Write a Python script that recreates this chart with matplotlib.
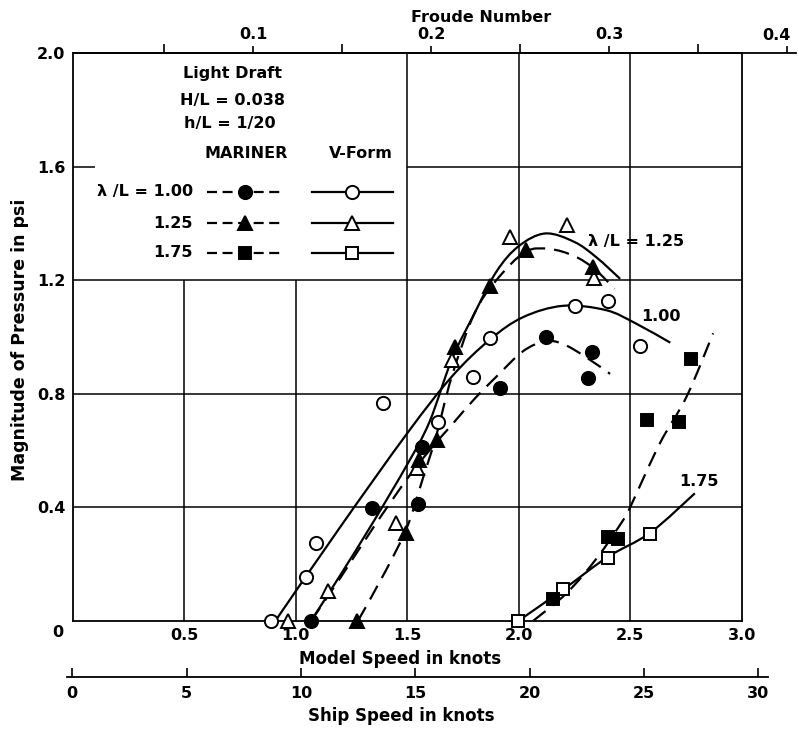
import numpy as np
import matplotlib
matplotlib.use("Agg")
import matplotlib.pyplot as plt
from matplotlib.path import Path
from matplotlib.patches import PathPatch

plt.rcParams['font.family'] = ['DejaVu Sans']
plt.rcParams['font.weight'] = 'bold'
plt.rcParams['font.size'] = 11.5

# Measured points: model speed (knots) vs pressure magnitude (psi)
vform_100_v = [0.89, 1.047, 1.091, 1.393, 1.640, 1.794, 1.871, 2.252, 2.399, 2.544]
vform_100_p = [0.0, 0.155, 0.275, 0.768, 0.701, 0.860, 0.998, 1.110, 1.127, 0.969]
mariner_100_v = [1.069, 1.341, 1.550, 1.565, 1.916, 2.122, 2.312, 2.327]
mariner_100_p = [0.0, 0.398, 0.411, 0.613, 0.821, 1.001, 0.857, 0.946]

vform_125_v = [0.967, 1.144, 1.449, 1.543, 1.700, 1.961, 2.215, 2.339]
vform_125_p = [0.0, 0.106, 0.343, 0.537, 0.919, 1.354, 1.395, 1.207]
mariner_125_v = [1.274, 1.494, 1.553, 1.635, 1.714, 1.871, 2.033, 2.334]
mariner_125_p = [0.0, 0.308, 0.566, 0.637, 0.966, 1.180, 1.307, 1.248]

vform_175_v = [1.995, 2.197, 2.399, 2.589]
vform_175_p = [0.0, 0.110, 0.222, 0.306]
mariner_175_v = [2.155, 2.402, 2.446, 2.574, 2.719, 2.772]
mariner_175_p = [0.075, 0.296, 0.287, 0.707, 0.699, 0.921]

# Faired curves (knots along each hand-drawn line)
fair_v100_v = [0.91, 1.2, 1.5, 1.7, 1.87, 2.02, 2.2, 2.39, 2.52, 2.68]
fair_v100_p = [0.0, 0.33, 0.66, 0.86, 0.99, 1.07, 1.11, 1.095, 1.05, 0.98]
fair_m100_v = [1.07, 1.2, 1.35, 1.5, 1.6, 1.7, 1.8, 1.9, 2.02, 2.12, 2.2, 2.3, 2.41]
fair_m100_p = [0.0, 0.15, 0.33, 0.5, 0.6, 0.69, 0.78, 0.86, 0.95, 0.985, 0.975, 0.93, 0.87]
fair_v125_v = [1.07, 1.2, 1.35, 1.5, 1.6, 1.7, 1.8, 1.9, 2.0, 2.12, 2.25, 2.35, 2.455]
fair_v125_p = [0.0, 0.16, 0.35, 0.55, 0.70, 0.92, 1.08, 1.23, 1.32, 1.365, 1.335, 1.28, 1.205]
fair_m125_v = [1.28, 1.4, 1.5, 1.57, 1.63, 1.7, 1.8, 1.9, 2.03, 2.14, 2.25, 2.34, 2.43]
fair_m125_p = [0.0, 0.17, 0.33, 0.50, 0.65, 0.86, 1.08, 1.2, 1.30, 1.31, 1.285, 1.24, 1.17]
fair_v175_v = [2.0, 2.2, 2.4, 2.59, 2.79]
fair_v175_p = [0.0, 0.11, 0.225, 0.31, 0.449]
fair_m175_v = [2.066, 2.215, 2.35, 2.469, 2.5, 2.633, 2.753, 2.872]
fair_m175_p = [0.0, 0.097, 0.22, 0.355, 0.40, 0.625, 0.79, 1.013]

model_ticks = [0.5, 1.0, 1.5, 2.0, 2.5, 3.0]
pressure_ticks = [0.4, 0.8, 1.2, 1.6, 2.0]
froude_major = [0.1, 0.2, 0.3, 0.4]
froude_minor = [0.05, 0.15, 0.25, 0.35]
ship_ticks = [0, 5, 10, 15, 20, 25, 30]

DASH = (0, (7, 4))
LW = 1.6


def faired(xs, ys):
    # Catmull-Rom knots turned into cubic Bezier segments
    pts = np.column_stack([xs, ys])
    n = len(pts)
    verts = [pts[0]]
    codes = [Path.MOVETO]
    for i in range(n - 1):
        p0 = pts[i - 1] if i > 0 else pts[i]
        p1, p2 = pts[i], pts[i + 1]
        p3 = pts[i + 2] if i + 2 < n else pts[i + 1]
        verts += [p1 + (p2 - p0) / 6, p2 - (p3 - p1) / 6, p2]
        codes += [Path.CURVE4] * 3
    return Path(verts, codes)


fig = plt.figure(figsize=(7.99, 7.29), dpi=100)
W, H = 799, 729
ax = fig.add_axes([72.5 / W, 1 - 620.7 / H, 669.2 / W, 567.4 / H])
ax.set_xlim(0, 3.0)
ax.set_ylim(0, 2.0)

# Grid, kept clear of the key box in the upper left
ax.vlines([0.5, 1.0], 0, 1.2, color='k', lw=1.1, zorder=1)
ax.vlines([1.5, 2.0, 2.5], 0, 2.0, color='k', lw=1.1, zorder=1)
ax.hlines([0.4, 0.8, 1.2], 0, 3.0, color='k', lw=1.1, zorder=1)
ax.hlines(1.6, 1.5, 3.0, color='k', lw=1.1, zorder=1)
ax.hlines(1.6, 0, 0.1, color='k', lw=1.1, zorder=1)

for s in ax.spines.values():
    s.set_linewidth(1.3)

ax.set_xticks(model_ticks)
ax.set_xticklabels([f"{t:.1f}" for t in model_ticks])
ax.set_yticks(pressure_ticks)
ax.set_yticklabels([f"{t:.1f}" for t in pressure_ticks])
ax.tick_params(length=0, pad=5)
ax.text(-0.064, -0.043, "0", ha='center', va='center', clip_on=False)

curve_specs = [
    (fair_v100_v, fair_v100_p, '-'),
    (fair_m100_v, fair_m100_p, DASH),
    (fair_v125_v, fair_v125_p, '-'),
    (fair_m125_v, fair_m125_p, DASH),
    (fair_v175_v, fair_v175_p, '-'),
    (fair_m175_v, fair_m175_p, DASH),
]
for xs, ys, ls in curve_specs:
    ax.add_patch(PathPatch(faired(xs, ys), fill=False, ec='k', lw=LW,
                           ls=ls, capstyle='butt', zorder=2))

marker_specs = [
    (vform_100_v, vform_100_p, 'o', 'white'),
    (mariner_100_v, mariner_100_p, 'o', 'black'),
    (vform_125_v, vform_125_p, '^', 'white'),
    (mariner_125_v, mariner_125_p, '^', 'black'),
    (vform_175_v, vform_175_p, 's', 'white'),
    (mariner_175_v, mariner_175_p, 's', 'black'),
]
for xs, ys, m, fc in marker_specs:
    ms = 9.5 if m != 's' else 8.5
    ax.plot(xs, ys, ls='none', marker=m, ms=ms, mfc=fc, mec='k',
            mew=1.4, zorder=4, clip_on=False)

# Curve labels
ax.text(2.311, 1.336, "λ /L = 1.25", ha='left', va='center')
ax.text(2.551, 1.072, "1.00", ha='left', va='center')
ax.text(2.718, 0.490, "1.75", ha='left', va='center')

# Key
ax.text(0.716, 1.928, "Light Draft", ha='center', va='center')
ax.text(0.716, 1.835, "H/L = 0.038", ha='center', va='center')
ax.text(0.706, 1.752, "h/L = 1/20", ha='center', va='center')
ax.text(0.780, 1.648, "MARINER", ha='center', va='center')
ax.text(1.292, 1.648, "V-Form", ha='center', va='center')
key_rows = [("λ /L = 1.00", 'o', 1.512), ("1.25", '^', 1.401), ("1.75", 's', 1.297)]
for label, m, y in key_rows:
    ax.text(0.54, y, label, ha='right', va='center')
    ms = 9.5 if m != 's' else 8.5
    ax.plot([0.604, 0.93], [y, y], color='k', lw=LW, ls=(0, (4.5, 2.5)), zorder=3)
    ax.plot([0.773], [y], ls='none', marker=m, ms=ms, mfc='black', mec='k', mew=1.4, zorder=4)
    ax.plot([1.074, 1.436], [y, y], color='k', lw=LW, zorder=3)
    ax.plot([1.253], [y], ls='none', marker=m, ms=ms, mfc='white', mec='k', mew=1.4, zorder=4)

# Froude number scale along the top
fax = fig.add_axes([75 / W, 1 - 53.3 / H, 721 / W, 0.0001])
fax.set_xlim(0, 0.405)
fax.set_yticks([])
for k in ('left', 'right', 'bottom'):
    fax.spines[k].set_visible(False)
fax.spines['top'].set_linewidth(1.3)
fax.xaxis.tick_top()
fax.set_xticks(froude_major)
# the last label sits just inside the page edge
fax.set_xticklabels([f"{t:.1f}" for t in froude_major[:-1]] + [""])
fax.set_xticks(froude_minor, minor=True)
fax.tick_params(which='major', direction='out', length=5, width=1.2, pad=3)
fax.tick_params(which='minor', direction='out', length=6.5, width=1.2)
fax.patch.set_visible(False)
fig.text(776 / W, 1 - 35 / H, f"{froude_major[-1]:.1f}", ha='center', va='center')
fig.text(481 / W, 1 - 17 / H, "Froude Number", ha='center', va='center')

# Full-scale ship speed along the bottom
sax = fig.add_axes([67 / W, 1 - 677.3 / H, 701 / W, 0.0001])
sax.set_xlim(-0.232, 30.42)
sax.set_yticks([])
for k in ('left', 'right', 'top'):
    sax.spines[k].set_visible(False)
sax.spines['bottom'].set_linewidth(1.3)
sax.set_xticks(ship_ticks)
sax.tick_params(direction='in', length=6.5, width=1.2, pad=6.5)
sax.patch.set_visible(False)

fig.text(400 / W, 1 - 659 / H, "Model Speed in knots", ha='center', va='center', fontsize=12)
fig.text(401 / W, 1 - 716 / H, "Ship Speed in knots", ha='center', va='center', fontsize=12)
fig.text(20 / W, 1 - 340 / H, "Magnitude of Pressure in psi", ha='center',
         va='center', rotation=90, fontsize=12.5)

fig.savefig("out.png", dpi=100)
